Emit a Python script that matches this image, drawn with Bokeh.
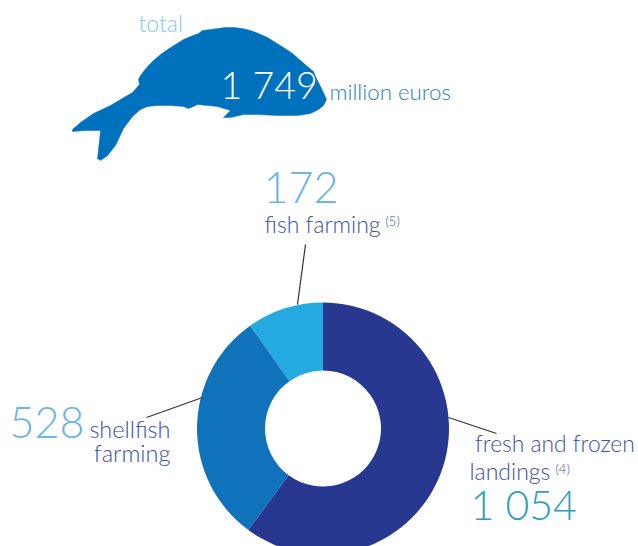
from math import pi
from bokeh.plotting import figure
from bokeh.embed import file_html
from bokeh.resources import INLINE
from bokeh.core.properties import value

W, H = 638, 546

# data
segments = ["fish farming", "shellfish farming", "fresh and frozen landings"]
segment_values = [172, 528, 1054]
total_value = 1749
labels_total = ["total", "1 749", "million euros"]
label_values = ["172", "528", "1 054"]

FONT = "Lato Light"
SEG_COLORS = ["#24a9e1", "#1072ba", "#283891"]

# whale silhouette outline (pixels)
whale_x = [72, 80, 93, 110, 125, 132, 139, 138, 140, 143, 148, 153, 160, 167, 175, 183, 190, 198, 202, 210, 217, 225, 233, 242, 250, 258, 267, 275, 283, 292, 300, 307, 313, 316, 322, 326, 323, 318, 310, 297, 277, 257, 243, 230, 223, 230, 217, 197, 193, 188, 183, 170, 157, 147, 140, 132, 123, 115, 107, 100, 97, 99, 100, 86, 72]
whale_y = [129, 122, 113, 105, 96, 92, 84, 79, 75, 71, 65, 60, 54, 49, 44, 39, 36, 33, 30, 29, 28, 27, 27, 28, 30, 33, 37, 42, 47, 53, 60, 66, 71, 78, 90, 99, 105, 109, 113, 115, 115, 114, 114, 117, 117, 110, 106, 104, 106, 108, 106, 105, 105, 106, 109, 116, 128, 145, 155, 160, 158, 140, 130, 130, 131]

p = figure(width=W, height=H, x_range=(0, W), y_range=(0, H),
           output_backend="svg", toolbar_location=None,
           min_border=0, outline_line_color=None, background_fill_color="white")
p.axis.visible = False
p.grid.visible = False

def fy(v):
    return H - v

p.patch(whale_x, [fy(v) for v in whale_y], fill_color="#0071bc", line_color="#0071bc", line_width=0.5)

# donut, counter-clockwise from 12 o'clock
tot = sum(segment_values)
start = pi / 2
for name, v, c in zip(segments, segment_values, SEG_COLORS):
    end = start + 2 * pi * v / tot
    p.annular_wedge(x=322.5, y=fy(428), inner_radius=58, outer_radius=126,
                    start_angle=start, end_angle=end, fill_color=c, line_color=None)
    start = end

# leader lines
for xs, ys in [([448, 496], [417, 433]), ([202, 146], [397, 417]), ([305, 297], [244, 304])]:
    p.line(xs, [fy(v) for v in ys], line_color="#333333", line_width=1.2)

def txt(x, y, s, size, color, align="left", font=FONT):
    p.text([x], [fy(y - 0.38 * size)], text=[s], text_font=value(font), text_font_size=f"{size}px",
           text_color=color, text_align=align, text_baseline="alphabetic")

BLUE = "#3a50a4"
txt(138, 31, labels_total[0], 23, "#8cc4e8")
txt(220, 98, labels_total[1], 37.5, "#ffffff")
txt(329, 99, labels_total[2], 22.3, "#1f80c4")
txt(263, 203, label_values[0], 43, "#6cb4e4")
txt(264, 232, "fish farming", 23, BLUE)
txt(385, 225, "(5)", 13, BLUE)
txt(9, 438, label_values[1], 43, "#6cb4e4")
txt(170, 437, "shellfish", 23.5, BLUE, "right")
txt(170, 461, "farming", 23.5, BLUE, "right")
txt(474.5, 451, "fresh and frozen", 22.8, BLUE)
txt(469, 479, "landings", 23, BLUE)
txt(555, 473, "(4)", 13, BLUE)
txt(470, 520, label_values[2], 41, "#2fa0bc")

open("out.html", "w").write(file_html(p, INLINE))
